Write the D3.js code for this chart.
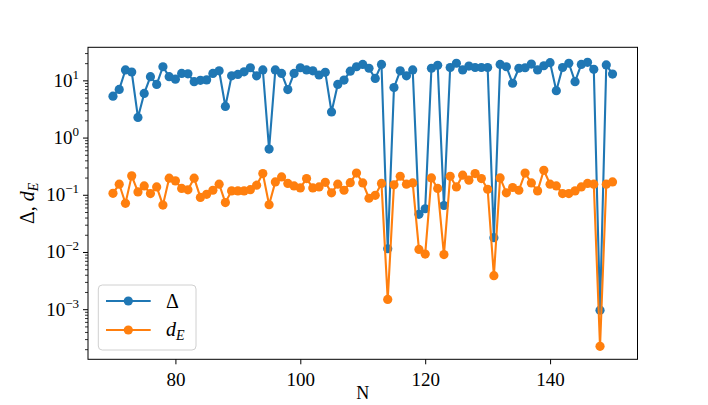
<!DOCTYPE html>
<html>
<head>
<meta charset="utf-8">
<script src="https://cdn.jsdelivr.net/npm/d3@7"></script>
<style>
  html, body { margin: 0; padding: 0; background: #fff; }
  svg text { font-family: "Liberation Serif", "DejaVu Serif", serif; fill: #000; }
</style>
</head>
<body>
<svg id="chart" width="708" height="405"></svg>
<script>
// ---- data ----
const N = d3.range(70, 151);
const delta = [
  5.3, 6.95, 15.2, 14, 2.25, 5.9, 11.6, 8.5, 17.3, 11.6,
  10.5, 13.2, 13, 9.5, 10, 10.2, 13.2, 14.7, 3.5, 12,
  12.7, 14.1, 16.6, 12, 15.2, 0.63, 15.2, 13.2, 6.9, 13.2,
  16.6, 15.2, 14.7, 12.4, 13.8, 2.8, 8.5, 10.1, 14.5, 17.3,
  19, 16.3, 10.8, 19, 0.0114, 7.5, 14.7, 12, 15.2, 0.0455,
  0.057, 16.3, 18.3, 0.065, 16.8, 19.9, 15.2, 17.8, 16.8, 16.8,
  16.8, 0.0178, 19, 17.3, 8.9, 16.3, 16.6, 19.3, 15.2, 18,
  20.4, 6.6, 16.8, 19.9, 9.5, 19, 20.7, 15.6, 0.00096, 18.6,
  12.9
];
const dE = [
  0.106, 0.153, 0.071, 0.214, 0.112, 0.143, 0.105, 0.137, 0.066, 0.195,
  0.175, 0.129, 0.122, 0.195, 0.090, 0.102, 0.12, 0.153, 0.073, 0.117,
  0.117, 0.117, 0.123, 0.147, 0.235, 0.067, 0.168, 0.205, 0.158, 0.143,
  0.132, 0.192, 0.132, 0.137, 0.165, 0.108, 0.153, 0.12, 0.163, 0.24,
  0.161, 0.087, 0.098, 0.158, 0.00148, 0.149, 0.211, 0.153, 0.161, 0.0111,
  0.0092, 0.197, 0.129, 0.009, 0.211, 0.137, 0.22, 0.18, 0.235, 0.192,
  0.125, 0.00385, 0.197, 0.108, 0.134, 0.12, 0.24, 0.161, 0.117, 0.268,
  0.153, 0.143, 0.105, 0.105, 0.117, 0.137, 0.158, 0.153, 0.000224, 0.153,
  0.168
];
const xTicks = [80, 100, 120, 140];
const yTickExps = [-3, -2, -1, 0, 1];
const seriesNames = ["Δ", "dE"];
const colors = ["#1f77b4", "#ff7f0e"];

// ---- layout ----
const L = 88, R = 637.5, T = 47.3, B = 359.3;
const svg = d3.select("#chart");

const x = d3.scaleLinear().domain([66, 154]).range([L, R]);
const y = d3.scaleLog().domain([Math.pow(10, -3.876), Math.pow(10, 1.578)]).range([B, T]);

// ---- series ----
const series = [delta, dE];
const line = d3.line().x((d, i) => x(N[i])).y(d => y(d));
series.forEach((vals, k) => {
  const g = svg.append("g");
  g.append("path")
    .attr("d", line(vals))
    .attr("fill", "none")
    .attr("stroke", colors[k])
    .attr("stroke-width", 2.1)
    .attr("stroke-linejoin", "round");
  g.selectAll("circle").data(vals).join("circle")
    .attr("cx", (d, i) => x(N[i]))
    .attr("cy", d => y(d))
    .attr("r", 4.6)
    .attr("fill", colors[k]);
});

// ---- axes ----
const xAxis = d3.axisBottom(x).tickValues(xTicks).tickSize(5).tickSizeOuter(0).tickFormat(d3.format("d"));
const gx = svg.append("g").attr("transform", `translate(0,${B})`).call(xAxis);
gx.select(".domain").remove();
gx.selectAll(".tick line").attr("stroke", "#000").attr("stroke-width", 1);
gx.selectAll(".tick text").attr("font-size", 19).attr("dy", null).attr("y", 27)
  .attr("font-family", "Liberation Serif");

// y major ticks
const majors = yTickExps.map(e => Math.pow(10, e));
const minors = [];
for (let e = -4; e <= 1; e++) {
  for (let m = 2; m <= 9; m++) {
    const v = m * Math.pow(10, e);
    if (v >= y.domain()[0] && v <= y.domain()[1]) minors.push(v);
  }
}
const gyMinor = svg.append("g").attr("transform", `translate(${L},0)`)
  .call(d3.axisLeft(y).tickValues(minors).tickSize(3).tickFormat(""));
gyMinor.select(".domain").remove();
gyMinor.selectAll(".tick line").attr("stroke", "#000").attr("stroke-width", 0.8);

const gy = svg.append("g").attr("transform", `translate(${L},0)`)
  .call(d3.axisLeft(y).tickValues(majors).tickSize(5).tickFormat(""));
gy.select(".domain").remove();
gy.selectAll(".tick line").attr("stroke", "#000").attr("stroke-width", 1);
gy.selectAll(".tick").each(function(d, i) {
  const e = yTickExps[i];
  const t = d3.select(this).append("text")
    .attr("x", -9).attr("y", 6).attr("text-anchor", "end").attr("font-size", 19);
  t.append("tspan").text("10");
  t.append("tspan").attr("font-size", 13).attr("dy", -8)
    .text(e < 0 ? "\u2212" + Math.abs(e) : String(e));
});

// frame
svg.append("rect").attr("x", L).attr("y", T).attr("width", R - L).attr("height", B - T)
  .attr("fill", "none").attr("stroke", "#000").attr("stroke-width", 1);

// ---- axis labels ----
svg.append("text").attr("x", (L + R) / 2).attr("y", 399).attr("text-anchor", "middle")
  .attr("font-size", 18).text("N");

const yl = svg.append("text").attr("transform", `translate(34,${(T + B) / 2}) rotate(-90)`)
  .attr("text-anchor", "middle").attr("font-size", 20);
yl.append("tspan").text("Δ, ");
yl.append("tspan").attr("font-style", "italic").text("d");
yl.append("tspan").attr("font-style", "italic").attr("font-size", 14).attr("dy", 4).text("E");

// ---- legend ----
const lg = svg.append("g");
lg.append("rect").attr("x", 98.3).attr("y", 285).attr("width", 97.7).attr("height", 65)
  .attr("rx", 4).attr("fill", "#fff").attr("fill-opacity", 0.8)
  .attr("stroke", "#d0d0d0").attr("stroke-width", 1);
const ly = [301, 330];
series.forEach((vals, k) => {
  lg.append("line").attr("x1", 106).attr("x2", 150.7).attr("y1", ly[k]).attr("y2", ly[k])
    .attr("stroke", colors[k]).attr("stroke-width", 2.1);
  lg.append("circle").attr("cx", 128.3).attr("cy", ly[k]).attr("r", 4.6).attr("fill", colors[k]);
});
lg.append("text").attr("x", 166).attr("y", ly[0] + 7).attr("font-size", 20).text(seriesNames[0]);
const le = lg.append("text").attr("x", 166).attr("y", ly[1] + 6).attr("font-size", 20);
le.append("tspan").attr("font-style", "italic").text("d");
le.append("tspan").attr("font-style", "italic").attr("font-size", 14).attr("dy", 4).text("E");
</script>
</body>
</html>
